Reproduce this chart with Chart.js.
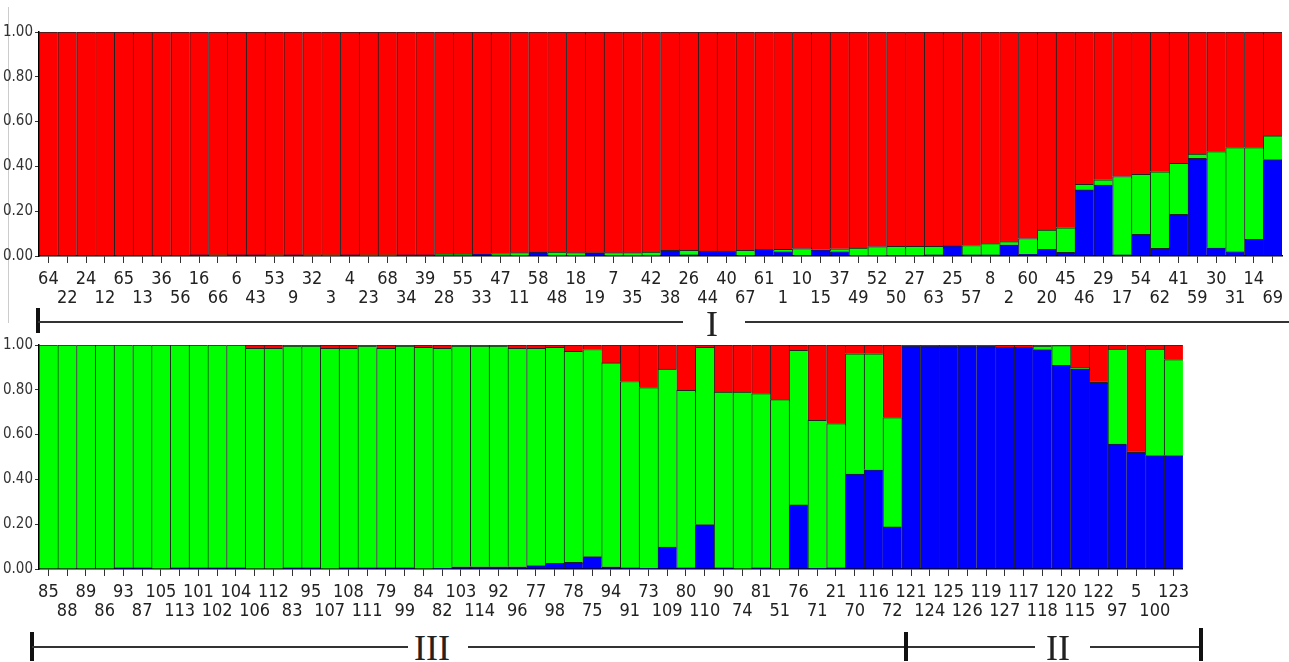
<!DOCTYPE html>
<html>
<head>
<meta charset="utf-8">
<script src="https://cdn.jsdelivr.net/npm/chart.js@4.4.1/dist/chart.umd.min.js"></script>
<style>
  body { margin: 0; background: #fff; width: 1289px; height: 662px; overflow: hidden; position: relative; }
  canvas { position: absolute; }
  .ln { position: absolute; background: #333; height: 2px; }
  .tk { position: absolute; background: #111; width: 4px; }
  .rn { position: absolute; font-family: "Liberation Serif", "DejaVu Serif", serif; font-size: 36px; line-height: 1; color: #222; }
</style>
</head>
<body>
<div style="position:absolute;left:8px;top:7px;width:1px;height:316px;background:#ccc"></div>
<canvas id="topChart"></canvas>
<canvas id="bottomChart"></canvas>

<!-- group bars under the panels -->
<div class="tk" style="left:36px;top:308px;height:25px"></div>
<div class="ln" style="left:38px;top:321px;width:645px"></div>
<div class="rn" style="left:706px;top:306px">I</div>
<div class="ln" style="left:745px;top:321px;width:544px"></div>

<div class="tk" style="left:30px;top:632px;height:29px"></div>
<div class="ln" style="left:32px;top:646px;width:376px"></div>
<div class="rn" style="left:414px;top:630px">III</div>
<div class="ln" style="left:468px;top:646px;width:437px"></div>
<div class="tk" style="left:904px;top:632px;height:29px"></div>
<div class="ln" style="left:908px;top:646px;width:127px"></div>
<div class="rn" style="left:1046px;top:630px">II</div>
<div class="ln" style="left:1090px;top:646px;width:110px"></div>
<div class="tk" style="left:1199px;top:628px;height:33px"></div>

<script>
// individuals in plotted order
const topIds = [64,22,24,12,65,13,36,56,16,66,6,43,53,9,32,3,4,23,68,34,39,28,55,33,47,11,58,48,18,19,7,35,42,38,26,44,40,67,61,1,10,15,37,49,52,50,27,63,25,57,8,2,60,20,45,46,29,17,54,62,41,59,30,31,14,69];
const topBlue = [0,0,0,0,0,0,0,0,0.005,0,0.005,0.005,0,0.005,0,0,0.005,0,0,0.005,0.005,0,0,0.008,0,0,0.018,0,0,0.015,0,0,0,0.025,0.005,0.022,0.022,0.003,0.03,0.02,0.003,0.028,0.02,0,0,0.003,0.003,0.005,0.045,0.005,0.005,0.05,0.008,0.03,0.016,0.295,0.317,0.005,0.097,0.034,0.186,0.436,0.037,0.02,0.074,0.43];
const topGreen = [0,0,0,0,0,0,0,0,0,0.005,0,0,0.005,0,0.005,0.005,0,0.005,0.005,0,0,0.008,0.008,0,0.01,0.015,0,0.018,0.015,0,0.015,0.015,0.018,0,0.02,0,0,0.022,0,0.01,0.03,0,0.012,0.035,0.042,0.04,0.04,0.038,0,0.042,0.05,0.014,0.07,0.086,0.11,0.025,0.023,0.35,0.268,0.342,0.228,0.019,0.429,0.464,0.41,0.106];
const topRed = [1,1,1,1,1,1,1,1,0.995,0.995,0.995,0.995,0.995,0.995,0.995,0.995,0.995,0.995,0.995,0.995,0.995,0.992,0.992,0.992,0.99,0.985,0.982,0.982,0.985,0.985,0.985,0.985,0.982,0.975,0.975,0.978,0.978,0.975,0.97,0.97,0.967,0.972,0.968,0.965,0.958,0.957,0.957,0.957,0.955,0.953,0.945,0.936,0.922,0.884,0.874,0.68,0.66,0.645,0.635,0.624,0.586,0.545,0.534,0.516,0.516,0.464];

const bottomIds = [85,88,89,86,93,87,105,113,101,102,104,106,112,83,95,107,108,111,79,99,84,82,103,114,92,96,77,98,78,75,94,91,73,109,80,110,90,74,81,51,76,71,21,70,116,72,121,124,125,126,119,127,117,118,120,115,122,97,5,100,123];
const bottomBlue = [0,0,0,0,0.005,0.005,0,0.005,0.005,0.005,0.005,0,0,0.005,0.005,0,0.005,0.005,0.005,0.005,0,0.003,0.01,0.01,0.01,0.01,0.015,0.025,0.03,0.055,0.01,0.005,0.003,0.098,0.005,0.198,0.005,0,0.005,0,0.286,0.003,0.005,0.424,0.443,0.188,0.995,0.995,0.995,0.995,0.995,0.99,0.99,0.979,0.909,0.894,0.833,0.558,0.521,0.506,0.506];
const bottomGreen = [1,1,1,1,0.995,0.995,1,0.995,0.995,0.995,0.995,0.985,0.985,0.99,0.99,0.985,0.98,0.99,0.98,0.99,0.99,0.982,0.985,0.985,0.985,0.975,0.97,0.965,0.942,0.925,0.91,0.832,0.807,0.795,0.793,0.792,0.785,0.79,0.778,0.756,0.69,0.661,0.644,0.537,0.518,0.488,0,0,0,0,0,0,0,0.016,0.088,0.006,0.005,0.424,0.005,0.476,0.429];
const bottomRed = [0,0,0,0,0,0,0,0,0,0,0,0.015,0.015,0.005,0.005,0.015,0.015,0.005,0.015,0.005,0.01,0.015,0.005,0.005,0.005,0.015,0.015,0.01,0.028,0.02,0.08,0.163,0.19,0.107,0.202,0.01,0.21,0.21,0.217,0.244,0.024,0.336,0.351,0.039,0.039,0.324,0.005,0.005,0.005,0.005,0.005,0.01,0.01,0.005,0.003,0.1,0.162,0.018,0.474,0.018,0.065];

const yTicks = [0, 0.2, 0.4, 0.6, 0.8, 1];

const narrow = '"Liberation Sans Narrow", "DejaVu Sans Condensed", "Arial Narrow", sans-serif';

// labels alternate between upper and lower row
const twoRow = ids => ids.map((id, i) => i % 2 === 0 ? [String(id), ''] : ['', String(id)]);

const makeChart = (id, ids, blue, green, red, left, top, width) => {
    const cv = document.getElementById(id);
    cv.style.left = left + 'px';
    cv.style.top = top + 'px';
    cv.width = width;
    cv.height = 312;
    const seg = (data, color) => ({
        data: data,
        backgroundColor: color,
        borderColor: '#222',
        borderWidth: { top: 1, left: 1, right: 0, bottom: 0 },
        borderSkipped: false,
        barPercentage: 1,
        categoryPercentage: 1
    });
    return new Chart(cv, {
        type: 'bar',
        data: {
            labels: twoRow(ids),
            datasets: [seg(blue, '#0000ff'), seg(green, '#00ff00'), seg(red, '#ff0000')]
        },
        options: {
            responsive: false,
            animation: false,
            layout: { padding: { top: 32, right: 0, left: 0, bottom: 0 } },
            plugins: { legend: { display: false }, tooltip: { enabled: false } },
            scales: {
                x: {
                    stacked: true,
                    afterFit: s => { s.height = 56; },
                    grid: { offset: false, drawOnChartArea: false, tickLength: 7, color: '#333' },
                    border: { color: '#000', width: 1.5 },
                    ticks: {
                        autoSkip: false, maxRotation: 0, minRotation: 0, padding: 6,
                        color: '#222', font: { family: narrow, size: 18, lineHeight: 1.1 }
                    }
                },
                y: {
                    stacked: true,
                    min: 0, max: 1,
                    afterFit: s => { s.width = 39; },
                    afterBuildTicks: s => { s.ticks = yTicks.map(v => ({ value: v })); },
                    grid: { drawOnChartArea: false, tickLength: 4, color: '#333' },
                    border: { color: '#000', width: 1.5 },
                    ticks: {
                        padding: 2, color: '#333',
                        font: { family: narrow, size: 15 },
                        callback: v => v.toFixed(2)
                    }
                }
            }
        }
    });
};

makeChart('topChart', topIds, topBlue, topGreen, topRed, 0, 0, 1289);
makeChart('bottomChart', bottomIds, bottomBlue, bottomGreen, bottomRed, 0, 313, 1195);
</script>
</body>
</html>
